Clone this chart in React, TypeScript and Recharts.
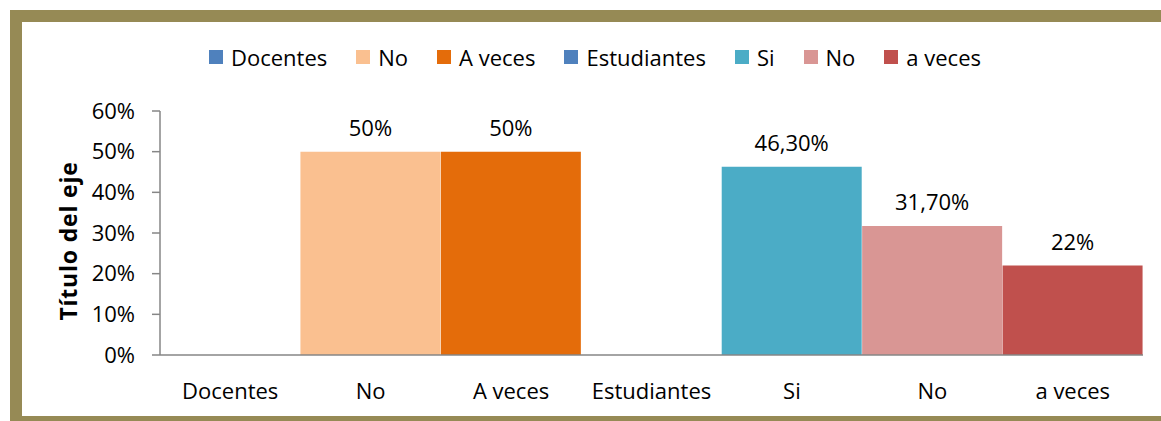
import { BarChart, Bar, XAxis, YAxis, Cell, LabelList, Legend } from "recharts"

// categories, values and colours
const categories = ["Docentes", "No", "A veces", "Estudiantes", "Si", "No", "a veces"]
const values = [0, 50, 50, 0, 46.3, 31.7, 22]
const colors = ["#4F81BD", "#FAC090", "#E46C0A", "#4F81BD", "#4BACC6", "#D99694", "#C0504D"]
const yTicks = [0, 10, 20, 30, 40, 50, 60]
const axisTitle = "Título del eje"

const data = categories.map((name, i) => ({ name, value: values[i] }))

const font = "'Open Sans', sans-serif"
const axisColor = "#868686"

const formatLabel = (v: number) => {
  if (!v) return ""
  if (Number.isInteger(v)) return `${v}%`
  return `${v.toFixed(2).replace(".", ",")}%`
}

const renderLegend = () => (
  <div
    style={{
      display: "flex",
      alignItems: "center",
      fontFamily: font,
      fontSize: 22,
      color: "#000",
      lineHeight: "30px",
      whiteSpace: "nowrap",
    }}
  >
    {categories.map((c, i) => (
      <div key={i} style={{ display: "flex", alignItems: "center", marginRight: 29 }}>
        <span style={{ display: "inline-block", width: 14, height: 14, background: colors[i], marginRight: 8 }} />
        <span>{c}</span>
      </div>
    ))}
  </div>
)

const renderTitle = (props: any) => {
  const vb = props.viewBox || { x: 60, y: 111, width: 100, height: 244 }
  const x = vb.x + 8
  const y = vb.y + vb.height / 2 + 8
  return (
    <text
      x={x}
      y={y}
      transform={`rotate(-90, ${x}, ${y})`}
      textAnchor="middle"
      dominantBaseline="central"
      fontFamily={font}
      fontWeight="bold"
      fontSize={23}
      letterSpacing={0.8}
      fill="#000"
    >
      {axisTitle}
    </text>
  )
}

export default function App() {
  return (
    <div
      style={{
        position: "fixed",
        left: 0,
        top: 0,
        width: 1161,
        height: 421,
        overflow: "hidden",
        background: "#fff",
      }}
    >
      <div
        style={{
          position: "absolute",
          left: 10,
          top: 10,
          width: 1200,
          height: 418,
          boxSizing: "border-box",
          border: "12px solid #968A55",
          background: "#fff",
        }}
      />
      <div style={{ position: "absolute", left: 0, top: 0 }}>
        <BarChart
          width={1161}
          height={421}
          data={data}
          barCategoryGap={0}
          margin={{ top: 111, right: 18, bottom: 26, left: 60 }}
        >
          <XAxis
            dataKey="name"
            height={40}
            axisLine={{ stroke: axisColor, strokeWidth: 1.5 }}
            tickLine={false}
            tickSize={6}
            tickMargin={22}
            tick={{ fontFamily: font, fontSize: 22, fill: "#000" }}
          />
          <YAxis
            width={100}
            domain={[0, 60]}
            ticks={yTicks}
            interval={0}
            tickFormatter={(v: number) => `${v}%`}
            axisLine={{ stroke: axisColor, strokeWidth: 1.5 }}
            tickLine={{ stroke: axisColor, strokeWidth: 1.5 }}
            tickSize={8}
            tickMargin={17}
            tick={{ fontFamily: font, fontSize: 22, fill: "#000" }}
            label={{ content: renderTitle }}
          />
          <Legend
            layout="horizontal"
            verticalAlign="middle"
            align="center"
            content={renderLegend}
            wrapperStyle={{ left: 209, top: 42, width: "auto" }}
          />
          <Bar dataKey="value" isAnimationActive={false}>
            {data.map((d, i) => (
              <Cell key={i} fill={colors[i]} />
            ))}
            <LabelList
              dataKey="value"
              position="top"
              offset={16}
              formatter={formatLabel}
              fontFamily={font}
              fontSize={22}
              fill="#000"
            />
          </Bar>
        </BarChart>
      </div>
    </div>
  )
}
